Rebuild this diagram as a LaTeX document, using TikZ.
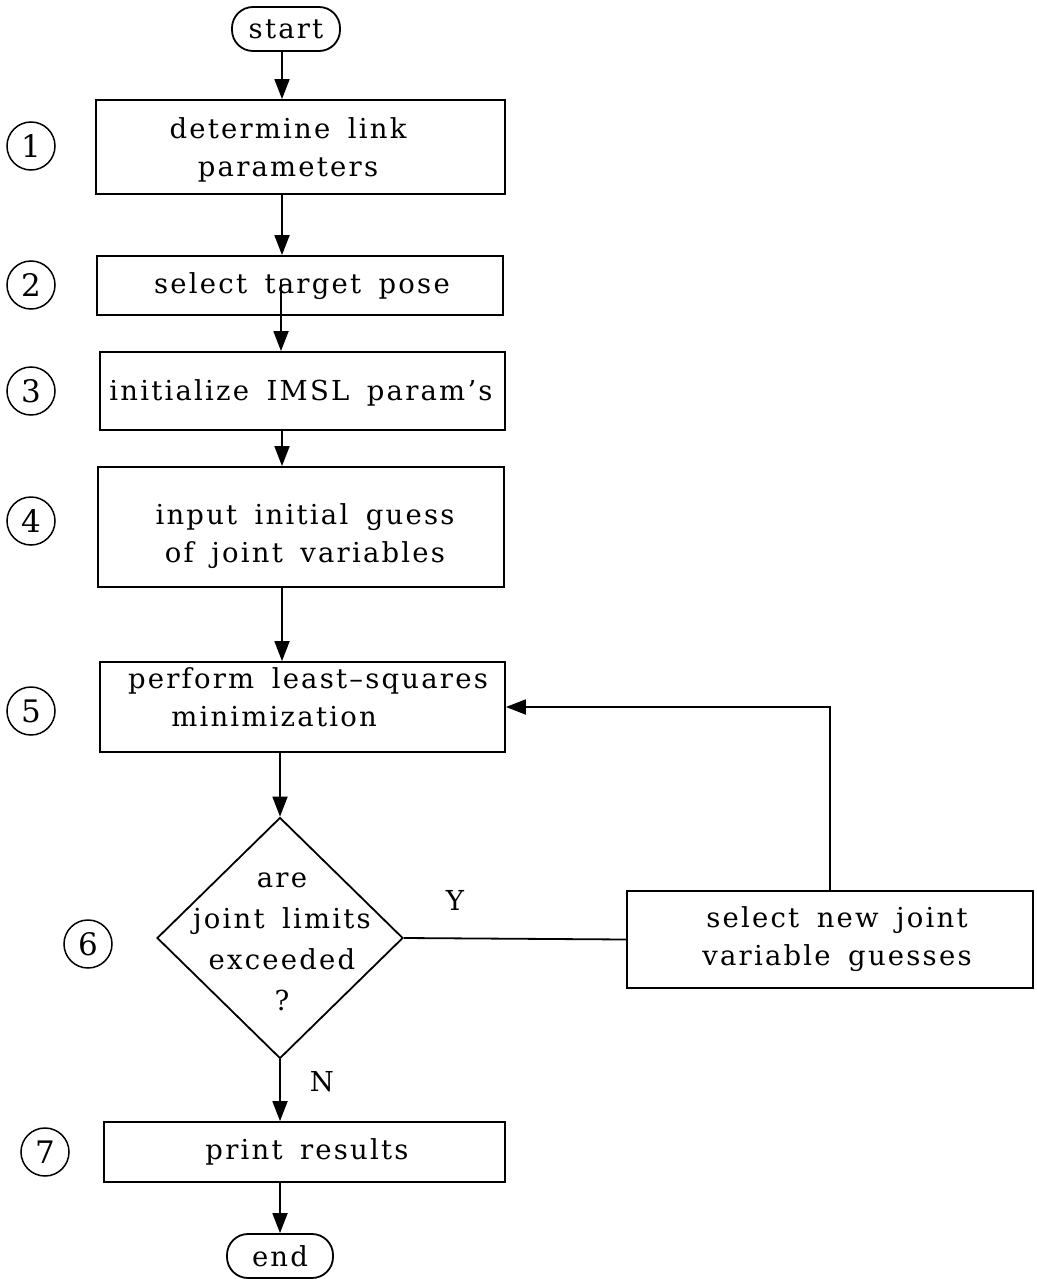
\documentclass[tikz,border=0pt]{standalone}
\usepackage{fontspec}
\setmainfont{DejaVu Serif}[LetterSpace=8,WordSpace=1.6]
\usetikzlibrary{shapes.geometric,arrows.meta,calc}
\begin{document}
\begin{tikzpicture}[x=1pt,y=-1pt,
  every node/.style={font=\fontsize{27.5}{38}\selectfont},
  ln/.style={line width=1.8pt},
  arr/.style={ln,-{Triangle[length=20pt,width=15pt]}},
  box/.style={draw,ln,rectangle,inner sep=0pt},
  txt/.style={align=center,inner sep=0pt},
  term/.style={draw,ln,rectangle,rounded corners=21pt,inner sep=0pt,minimum height=44pt},
  num/.style={draw,circle,line width=1.5pt,minimum size=48pt,inner sep=0pt,font=\fontsize{31}{36}\selectfont}
]
\useasboundingbox (0,0) rectangle (1036,1279);
\coordinate (m) at (282,0);

% terminals
\node[term,minimum width=108pt] (start) at (286,29) {start};
\node[term,minimum width=106pt] (end) at (280,1256) {end};

% boxes
\node[box,minimum width=409pt,minimum height=94pt] (b1) at (300.5,147) {};
\node[txt] (t1) at (288,150) {determine link\\parameters};
\node[box,minimum width=406pt,minimum height=59pt] (b2) at (300,285.5) {};
\node[txt] (t2) at (302,286) {select target pose};
\node[box,minimum width=405pt,minimum height=78pt] (b3) at (302.5,391) {};
\node[txt] (t3) at (301,393) {initialize IMSL param's};
\node[box,minimum width=406pt,minimum height=120pt] (b4) at (301,527) {};
\node[txt] (t4) at (305,536) {input initial guess\\of joint variables};
\node[box,minimum width=405pt,minimum height=90pt] (b5) at (302.5,707) {};
\node[txt] (t5) at (308,697) {perform least--squares\\minimization\hspace*{68pt}};
\node[draw,ln,diamond,minimum width=246pt,minimum height=241pt,inner sep=0pt] (d) at (280,938) {};
\node[txt,font=\fontsize{27.5}{41}\selectfont] (td) at (282,942) {are\\joint limits\\exceeded\\?};
\node[box,minimum width=406pt,minimum height=97pt] (sel) at (830,939.5) {};
\node[txt] (ts) at (837,939) {select new joint\\variable guesses};
\node[box,minimum width=401pt,minimum height=60pt] (b7) at (304.5,1152) {};
\node[txt] (t7) at (307,1152) {print results};

% step numbers
\node[num] (n1) at (31,146) {1};
\node[num] (n2) at (31,285) {2};
\node[num] (n3) at (31,391) {3};
\node[num] (n4) at (31,521) {4};
\node[num] (n5) at (31,711) {5};
\node[num] (n6) at (88,944) {6};
\node[num] (n7) at (45,1152) {7};

% labels
\node (ylab) at (455,900) {Y};
\node (nlab) at (322,1082) {N};

% connectors
\coordinate (b2in) at (281,280);
\draw[arr] (start.south -| m) -- (b1.north -| m);
\draw[arr] (b1.south -| m) -- (b2.north -| m);
\draw[arr] (b2in) -- (b3.north -| b2in);
\draw[arr] (b3.south -| m) -- (b4.north -| m);
\draw[arr] (b4.south -| m) -- (b5.north -| m);
\draw[arr] (b5.south -| d.north) -- (d.north);
\draw[arr] (d.south) -- (b7.north -| d.south);
\draw[arr] (b7.south -| end.north) -- (end.north);
\draw[ln] (d.east) -- (sel.west);
\draw[arr] (sel.north) |- (b5.east);
\end{tikzpicture}
\end{document}
